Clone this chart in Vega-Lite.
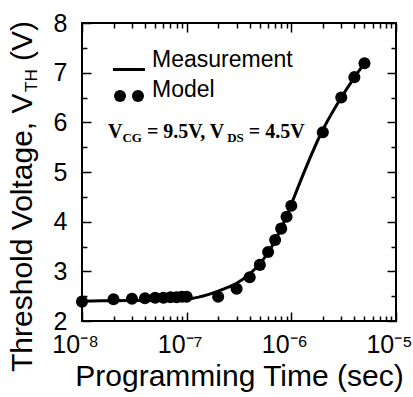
{
  "$schema": "https://vega.github.io/schema/vega-lite/v6.json",
  "width": 314,
  "height": 298,
  "autosize": "none",
  "padding": {"left": 82, "top": 23, "right": 17, "bottom": 76},
  "background": "white",
  "config": {
    "view": {"stroke": "black", "strokeWidth": 2},
    "font": "Liberation Sans",
    "axis": {"grid": false, "domain": false, "labelColor": "black", "tickColor": "black", "titleColor": "black"}
  },
  "datasets": {
    "measurement": [
      {"t": 1e-8, "v": 2.40}, {"t": 2e-8, "v": 2.41}, {"t": 5e-8, "v": 2.42}, {"t": 1e-7, "v": 2.44},
      {"t": 1.3e-7, "v": 2.48}, {"t": 1.6e-7, "v": 2.53}, {"t": 2e-7, "v": 2.60}, {"t": 2.5e-7, "v": 2.68},
      {"t": 3e-7, "v": 2.76}, {"t": 4e-7, "v": 2.95}, {"t": 5e-7, "v": 3.15}, {"t": 6e-7, "v": 3.38},
      {"t": 7e-7, "v": 3.62}, {"t": 8e-7, "v": 3.87}, {"t": 9e-7, "v": 4.10}, {"t": 1e-6, "v": 4.35},
      {"t": 2e-6, "v": 5.85}, {"t": 3e-6, "v": 6.50}, {"t": 4e-6, "v": 6.90}, {"t": 5e-6, "v": 7.19}
    ],
    "model": [
      {"t": 1e-8, "v": 2.39}, {"t": 2e-8, "v": 2.44}, {"t": 3e-8, "v": 2.45}, {"t": 4e-8, "v": 2.46},
      {"t": 5e-8, "v": 2.47}, {"t": 6e-8, "v": 2.47}, {"t": 7e-8, "v": 2.48}, {"t": 8e-8, "v": 2.48},
      {"t": 9e-8, "v": 2.49}, {"t": 1e-7, "v": 2.49}, {"t": 2e-7, "v": 2.49}, {"t": 3e-7, "v": 2.65},
      {"t": 4e-7, "v": 2.88}, {"t": 5e-7, "v": 3.13}, {"t": 6e-7, "v": 3.39}, {"t": 7e-7, "v": 3.63},
      {"t": 8e-7, "v": 3.86}, {"t": 9e-7, "v": 4.10}, {"t": 1e-6, "v": 4.32}, {"t": 2e-6, "v": 5.80},
      {"t": 3e-6, "v": 6.50}, {"t": 4e-6, "v": 6.91}, {"t": 5e-6, "v": 7.19}
    ],
    "legendLine": [{"x": 1.977e-8, "x2": 3.997e-8, "y": 7.064}],
    "legendDots": [{"x": 2.307e-8, "y": 6.53}, {"x": 3.427e-8, "y": 6.53}],
    "legendText": [
      {"x": 4.665e-8, "y": 7.114, "label": "Measurement"},
      {"x": 4.665e-8, "y": 6.52, "label": "Model"}
    ],
    "noteMain": [
      {"x": 1.771e-8, "y": 5.685, "label": "V"},
      {"x": 4.169e-8, "y": 5.685, "label": "= 9.5V, V"},
      {"x": 3.924e-7, "y": 5.685, "label": "= 4.5V"}
    ],
    "noteSub": [
      {"x": 2.432e-8, "y": 5.594, "label": "CG"},
      {"x": 2.438e-7, "y": 5.594, "label": "DS"}
    ],
    "yTitleMain": [
      {"x": 3.327e-9, "y": 0.974, "label": "Threshold Voltage, V"},
      {"x": 3.327e-9, "y": 7.237, "label": "(V)"}
    ],
    "yTitleSub": [{"x": 3.716e-9, "y": 6.613, "label": "TH"}]
  },
  "resolve": {"axis": {"x": "independent", "y": "independent"}},
  "layer": [
    {
      "data": {"name": "measurement"},
      "mark": {"type": "line", "color": "black", "strokeWidth": 3, "interpolate": "monotone"},
      "encoding": {
        "x": {
          "field": "t", "type": "quantitative",
          "scale": {"type": "log", "domain": [1e-8, 1e-5], "nice": false},
          "axis": {
            "orient": "bottom",
            "values": [1e-8, 2e-8, 3e-8, 4e-8, 5e-8, 6e-8, 7e-8, 8e-8, 9e-8, 1e-7, 2e-7, 3e-7, 4e-7, 5e-7, 6e-7, 7e-7, 8e-7, 9e-7, 1e-6, 2e-6, 3e-6, 4e-6, 5e-6, 6e-6, 7e-6, 8e-6, 9e-6, 1e-5],
            "labelExpr": "abs(log(datum.value)/LN10 - round(log(datum.value)/LN10)) > 0.01 ? '' : round(log(datum.value)/LN10) == -8 ? '10⁻⁸' : round(log(datum.value)/LN10) == -7 ? '10⁻⁷' : round(log(datum.value)/LN10) == -6 ? '10⁻⁶' : '10⁻⁵'",
            "tickSize": {"condition": {"test": "abs(log(datum.value)/LN10 - round(log(datum.value)/LN10)) < 0.01", "value": -9}, "value": -5},
            "tickWidth": 1.5,
            "labelFontSize": 25,
            "labelFont": "Liberation Sans",
            "labelBaseline": "alphabetic",
            "labelAlign": "center",
            "labelOffset": -7,
            "labelPadding": 40,
            "labelOverlap": false,
            "labelFlush": false,
            "labelBound": false,
            "title": "Programming Time (sec)",
            "titleFont": "Liberation Sans",
            "titleFontSize": 30,
            "titleFontWeight": "normal",
            "titleBaseline": "alphabetic",
            "titleAlign": "center",
            "titleAnchor": "middle",
            "titleX": 157,
            "titleY": 64
          }
        },
        "y": {
          "field": "v", "type": "quantitative",
          "scale": {"domain": [2, 8], "nice": false, "zero": false},
          "axis": {
            "orient": "left",
            "values": [2, 2.5, 3, 3.5, 4, 4.5, 5, 5.5, 6, 6.5, 7, 7.5, 8],
            "labelExpr": "datum.value % 1 == 0 ? format(datum.value, 'd') : ''",
            "tickSize": {"condition": {"test": "datum.value % 1 == 0", "value": -9}, "value": -5},
            "tickWidth": 1.5,
            "labelFontSize": 25,
            "labelFont": "Liberation Sans",
            "labelPadding": 24,
            "labelOverlap": false,
            "labelFlush": false,
            "title": null
          }
        }
      }
    },
    {
      "data": {"name": "model"},
      "mark": {"type": "point", "filled": true, "color": "black", "opacity": 1, "size": 145},
      "encoding": {
        "x": {
          "field": "t", "type": "quantitative",
          "scale": {"type": "log", "domain": [1e-8, 1e-5], "nice": false},
          "axis": {
            "orient": "top",
            "values": [1e-8, 2e-8, 3e-8, 4e-8, 5e-8, 6e-8, 7e-8, 8e-8, 9e-8, 1e-7, 2e-7, 3e-7, 4e-7, 5e-7, 6e-7, 7e-7, 8e-7, 9e-7, 1e-6, 2e-6, 3e-6, 4e-6, 5e-6, 6e-6, 7e-6, 8e-6, 9e-6, 1e-5],
            "labels": false,
            "tickSize": {"condition": {"test": "abs(log(datum.value)/LN10 - round(log(datum.value)/LN10)) < 0.01", "value": -9}, "value": -5},
            "tickWidth": 1.5,
            "title": null
          }
        },
        "y": {
          "field": "v", "type": "quantitative",
          "scale": {"domain": [2, 8], "nice": false, "zero": false},
          "axis": {
            "orient": "right",
            "values": [2, 2.5, 3, 3.5, 4, 4.5, 5, 5.5, 6, 6.5, 7, 7.5, 8],
            "labels": false,
            "tickSize": {"condition": {"test": "datum.value % 1 == 0", "value": -9}, "value": -5},
            "tickWidth": 1.5,
            "title": null
          }
        }
      }
    },
    {
      "data": {"name": "legendLine"},
      "mark": {"type": "rule", "color": "black", "strokeWidth": 3},
      "encoding": {
        "x": {"field": "x", "type": "quantitative", "axis": null},
        "x2": {"field": "x2"},
        "y": {"field": "y", "type": "quantitative", "axis": null}
      }
    },
    {
      "data": {"name": "legendDots"},
      "mark": {"type": "point", "filled": true, "color": "black", "opacity": 1, "size": 145},
      "encoding": {
        "x": {"field": "x", "type": "quantitative", "axis": null},
        "y": {"field": "y", "type": "quantitative", "axis": null}
      }
    },
    {
      "data": {"name": "legendText"},
      "mark": {"type": "text", "font": "Liberation Sans", "fontSize": 23, "align": "left", "baseline": "alphabetic", "color": "black"},
      "encoding": {
        "x": {"field": "x", "type": "quantitative", "axis": null},
        "y": {"field": "y", "type": "quantitative", "axis": null},
        "text": {"field": "label"}
      }
    },
    {
      "data": {"name": "noteMain"},
      "mark": {"type": "text", "font": "Liberation Serif", "fontWeight": "bold", "fontSize": 20, "align": "left", "baseline": "alphabetic", "color": "black"},
      "encoding": {
        "x": {"field": "x", "type": "quantitative", "axis": null},
        "y": {"field": "y", "type": "quantitative", "axis": null},
        "text": {"field": "label"}
      }
    },
    {
      "data": {"name": "noteSub"},
      "mark": {"type": "text", "font": "Liberation Serif", "fontWeight": "bold", "fontSize": 13, "align": "left", "baseline": "alphabetic", "color": "black"},
      "encoding": {
        "x": {"field": "x", "type": "quantitative", "axis": null},
        "y": {"field": "y", "type": "quantitative", "axis": null},
        "text": {"field": "label"}
      }
    },
    {
      "data": {"name": "yTitleMain"},
      "mark": {"type": "text", "font": "Liberation Sans", "fontSize": 30, "angle": 270, "align": "left", "baseline": "alphabetic", "color": "black"},
      "encoding": {
        "x": {"field": "x", "type": "quantitative", "axis": null},
        "y": {"field": "y", "type": "quantitative", "axis": null},
        "text": {"field": "label"}
      }
    },
    {
      "data": {"name": "yTitleSub"},
      "mark": {"type": "text", "font": "Liberation Sans", "fontSize": 17, "angle": 270, "align": "left", "baseline": "alphabetic", "color": "black"},
      "encoding": {
        "x": {"field": "x", "type": "quantitative", "axis": null},
        "y": {"field": "y", "type": "quantitative", "axis": null},
        "text": {"field": "label"}
      }
    }
  ]
}
